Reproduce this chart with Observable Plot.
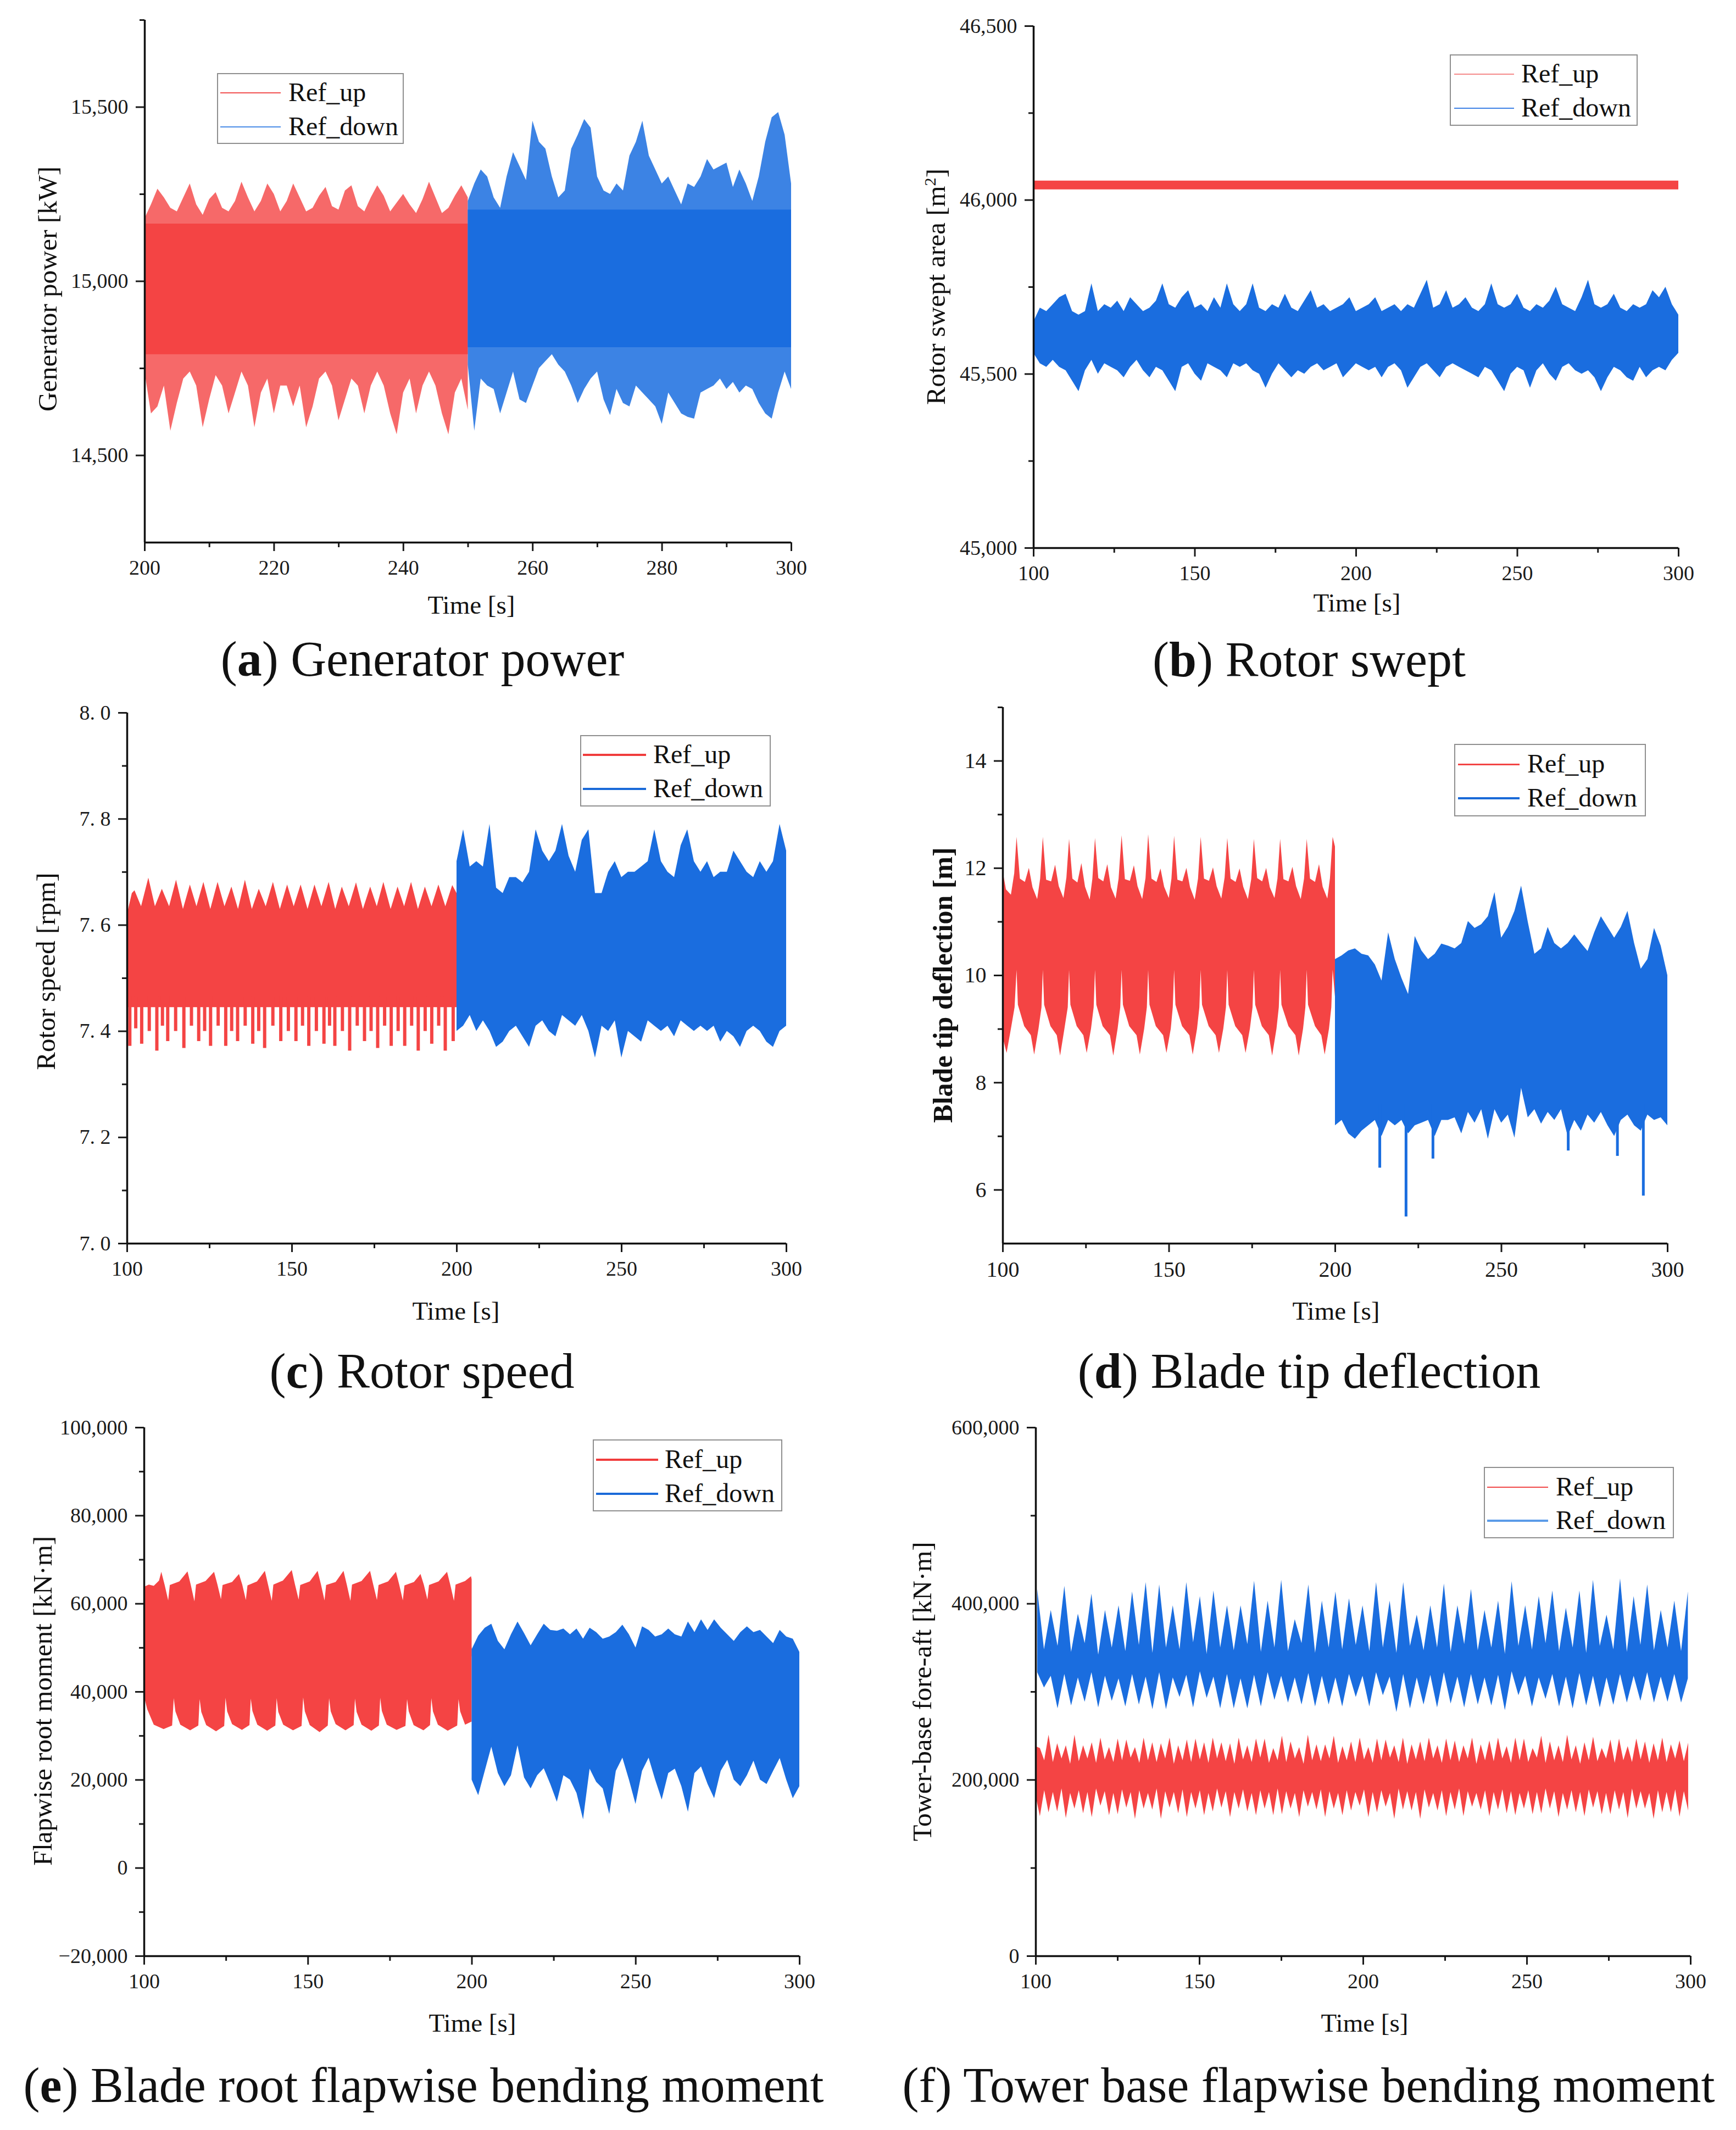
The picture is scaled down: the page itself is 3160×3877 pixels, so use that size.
<!DOCTYPE html>
<html><head><meta charset="utf-8">
<script src="https://cdn.jsdelivr.net/npm/d3@7"></script>
<script src="https://cdn.jsdelivr.net/npm/@observablehq/plot@0.6"></script>
<style>
html,body{margin:0;padding:0;background:#fff;overflow:hidden;}
#page{position:relative;width:3160px;height:3877px;background:#fff;overflow:hidden;font-family:"Liberation Serif","Times New Roman",serif;color:#111;}
.cap{position:absolute;transform:translate(-50%,-50%);white-space:nowrap;font-size:90px;line-height:1;}
.xt{position:absolute;transform:translate(-50%,-50%);white-space:nowrap;font-size:47px;line-height:1;}
.yt{position:absolute;transform:translate(-50%,-50%) rotate(-90deg);white-space:nowrap;font-size:49px;line-height:1;}
.leg{position:absolute;border:2px solid #8f8f8f;box-sizing:border-box;background:#fff;}
.legline{position:absolute;}
.legtxt{position:absolute;font-size:48px;line-height:1;transform:translateY(-52%);white-space:nowrap;}
</style></head>
<body><div id="page"></div>
<script>
const RED = "#f44444", BLUE = "#1a6ddf";

// ================= (a) Generator power [kW] =================
const aRedT = d3.range(200, 250.001, 1);
const aRedHi = [15180,15220,15265,15240,15210,15200,15240,15280,15220,15190,
  15235,15255,15210,15200,15230,15285,15240,15200,15230,15280,
  15250,15200,15230,15280,15240,15200,15210,15245,15270,15215,
  15205,15260,15275,15215,15200,15240,15275,15245,15200,15225,
  15250,15220,15195,15235,15285,15240,15195,15210,15245,15275,
  15240];
const aRedLo = [14740,14620,14640,14700,14570,14650,14720,14740,14700,14580,
  14660,14730,14700,14620,14680,14740,14700,14580,14680,14720,
  14620,14700,14700,14640,14700,14580,14640,14720,14740,14700,
  14600,14660,14720,14700,14620,14700,14740,14700,14620,14560,
  14680,14720,14620,14700,14740,14700,14620,14560,14680,14720,
  14630];
const aRedCoreT = [200, 250], aRedCoreLo = [14790, 14790], aRedCoreHi = [15165, 15165];
const aBlueT = d3.range(250, 300.001, 1);
const aBlueHi = [15230,15280,15320,15300,15240,15210,15300,15370,15330,15290,
  15460,15400,15380,15300,15240,15260,15380,15420,15465,15440,
  15300,15260,15250,15280,15260,15360,15400,15460,15360,15320,
  15280,15300,15260,15220,15280,15270,15300,15350,15320,15330,
  15340,15270,15320,15280,15230,15300,15400,15470,15485,15420,
  15280];
const aBlueLo = [14760,14570,14720,14700,14690,14620,14680,14740,14660,14650,
  14700,14750,14770,14790,14760,14740,14700,14650,14690,14720,
  14740,14660,14615,14690,14650,14640,14700,14680,14660,14640,
  14590,14680,14650,14620,14610,14605,14680,14690,14700,14720,
  14690,14710,14680,14700,14690,14650,14620,14605,14680,14740,
  14690];
const aBlueCoreT = [250, 300], aBlueCoreLo = [14810, 14810], aBlueCoreHi = [15205, 15205];

// ================= (b) Rotor swept area [m2] =================
const bRedT = [100, 300], bRedLo = [46030, 46030], bRedHi = [46055, 46055];
const bBlueT = d3.range(100, 300.001, 2);
const bBlueHi = [45650,45690,45680,45700,45720,45730,45680,45670,45680,45760,
  45680,45700,45690,45710,45680,45720,45700,45680,45690,45710,
  45760,45700,45690,45720,45740,45690,45700,45680,45720,45690,
  45760,45700,45680,45700,45760,45690,45680,45700,45690,45730,
  45690,45680,45710,45740,45690,45700,45680,45690,45700,45720,
  45680,45690,45700,45720,45680,45690,45700,45680,45700,45690,
  45730,45770,45690,45700,45740,45690,45700,45720,45690,45680,
  45700,45760,45700,45690,45700,45730,45690,45680,45700,45690,
  45710,45750,45700,45690,45680,45720,45770,45700,45690,45700,
  45730,45690,45680,45700,45690,45700,45740,45720,45750,45700,
  45670];
const bBlueLo = [45560,45530,45520,45540,45520,45510,45480,45450,45510,45540,
  45500,45530,45520,45510,45490,45520,45540,45510,45490,45520,
  45510,45480,45450,45520,45530,45500,45480,45530,45520,45510,
  45490,45530,45520,45530,45510,45500,45460,45500,45530,45510,
  45490,45510,45500,45520,45530,45510,45520,45530,45490,45510,
  45530,45520,45510,45520,45490,45520,45530,45510,45460,45490,
  45520,45530,45510,45490,45520,45530,45520,45510,45500,45490,
  45520,45510,45480,45450,45500,45520,45510,45460,45510,45530,
  45500,45480,45520,45530,45510,45500,45510,45490,45450,45490,
  45520,45510,45490,45480,45520,45490,45510,45520,45510,45540,
  45560];

// ================= (c) Rotor speed [rpm] =================
const cRedHiT = [100,101.5,102.3,104.3,106.5,108.5,110.6,112.8,114.9,117,119.1,121.1,123.2,125.3,127.5,129.6,
  131.7,133.7,135.8,137.9,140,142.1,144.3,146.4,148.6,150.6,152.7,154.8,156.9,159,161.2,163.2,
  165.2,167.3,169.5,171.6,173.8,175.8,177.8,180,182.1,184.1,186.2,188.3,190.4,192.4,194.5,196.6,198.7,200];
const cRedHiV = [7.62,7.66,7.665,7.635,7.689,7.635,7.668,7.635,7.685,7.63,7.676,7.635,7.681,7.63,7.681,7.635,
  7.672,7.63,7.685,7.63,7.668,7.635,7.681,7.63,7.676,7.635,7.676,7.63,7.676,7.635,7.681,7.63,
  7.672,7.635,7.68,7.63,7.672,7.635,7.681,7.63,7.672,7.635,7.681,7.63,7.672,7.635,7.676,7.635,7.675,7.66];
const cRedBase = 7.445;
const cRedSpikeT = [100.8,104.4,109,112.3,117.2,121.7,125.3,129.9,133.5,138.1,141.7,146.6,151.2,
  155.1,159.7,163,167.5,172,176,180.1,184.2,188.3,192.4,196.5,198.9];
const cRedSpikeV = [7.372,7.376,7.363,7.381,7.368,7.381,7.372,7.372,7.381,7.376,7.368,7.381,7.381,
  7.372,7.376,7.372,7.363,7.381,7.368,7.372,7.372,7.363,7.376,7.363,7.381];
const cRedDipT = [102.6,106.7,110.7,114.7,119.5,123.5,127.6,131.7,135.8,139.9,144.2,148.9,
  153.2,157.4,161.4,165.3,169.8,174,178.1,182.2,186.3,190.4,194.5];
const cRedDipV = [7.405,7.40,7.41,7.40,7.41,7.40,7.41,7.40,7.41,7.40,7.41,7.40,
  7.41,7.40,7.41,7.40,7.41,7.40,7.41,7.40,7.41,7.40,7.41];
const cBlueT = d3.range(200, 300.001, 2);
const cBlueHi = [7.72,7.78,7.71,7.72,7.71,7.79,7.67,7.66,7.69,7.69,
  7.68,7.70,7.78,7.74,7.72,7.74,7.79,7.73,7.70,7.76,
  7.78,7.66,7.66,7.70,7.72,7.69,7.70,7.70,7.71,7.72,
  7.78,7.72,7.70,7.69,7.75,7.78,7.72,7.70,7.72,7.69,
  7.70,7.70,7.74,7.72,7.70,7.69,7.72,7.70,7.72,7.79,
  7.74];
const cBlueLo = [7.40,7.41,7.43,7.40,7.42,7.40,7.37,7.38,7.40,7.41,
  7.39,7.37,7.41,7.42,7.40,7.39,7.43,7.42,7.41,7.43,
  7.40,7.35,7.41,7.40,7.42,7.35,7.40,7.39,7.38,7.42,
  7.41,7.40,7.41,7.39,7.42,7.41,7.40,7.41,7.40,7.41,
  7.38,7.40,7.39,7.37,7.40,7.41,7.40,7.38,7.37,7.40,
  7.41];

// ================= (d) Blade tip deflection [m] =================
const dRedHiT = [100,101,102.5,103.5,
  104.2,105.2,106.7,107.9,109.0,110.4,111.3, 112.1,113.1,114.6,115.8,116.9,118.3,119.2,
  120.0,121.0,122.5,123.7,124.8,126.2,127.0, 127.8,128.8,130.3,131.5,132.6,134.0,134.9,
  135.8,136.8,138.3,139.5,140.6,142.0,143.0, 143.8,144.8,146.3,147.5,148.6,150.0,150.8,
  151.6,152.6,154.1,155.3,156.4,157.8,158.8, 159.6,160.6,162.1,163.3,164.4,165.8,166.8,
  167.6,168.6,170.1,171.3,172.4,173.8,174.8, 175.6,176.6,178.1,179.3,180.4,181.8,182.7,
  183.5,184.5,186.0,187.2,188.3,189.7,190.7, 191.5,192.5,194.0,195.2,196.3,197.7,198.5,
  199.3,200];
const dRedHiV = [11.95,11.6,11.5,11.9,
  12.58,11.8,11.74,12.0,11.64,11.42,11.8, 12.58,11.78,11.75,12.06,11.66,11.44,11.82,
  12.54,11.8,11.73,12.09,11.65,11.41,11.79, 12.56,11.81,11.75,12.07,11.64,11.43,11.8,
  12.61,11.79,11.76,12.05,11.66,11.42,11.81, 12.63,11.8,11.74,11.99,11.65,11.44,11.8,
  12.6,11.78,11.75,12.0,11.64,11.41,11.8, 12.58,11.8,11.76,12.01,11.66,11.43,11.82,
  12.56,11.8,11.74,11.99,11.65,11.42,11.79, 12.54,11.81,11.75,12.0,11.64,11.44,11.8,
  12.54,11.79,11.75,12.02,11.66,11.42,11.8, 12.54,11.8,11.74,12.07,11.65,11.43,11.81,
  12.58,12.4];
const dRedLoT = [100,
  101.2,102.5,103.6,104.2,104.6,106.5,108.5, 109.5,110.8,111.7,112.1,112.5,114.4,116.3,
  117.3,118.6,119.6,120.0,120.4,122.3,124.3, 125.3,126.6,127.4,127.8,128.2,130.1,132.3,
  133.3,134.6,135.4,135.8,136.2,138.1,140.3, 141.3,142.6,143.4,143.8,144.2,146.1,148.3,
  149.3,150.6,151.2,151.6,152.0,154.0,156.2, 157.2,158.5,159.2,159.6,160.0,162.0,164.1,
  165.1,166.4,167.2,167.6,168.0,170.0,172.1, 173.1,174.4,175.2,175.6,176.0,178.0,180.1,
  181.1,182.4,183.1,183.5,183.9,186.0,188.1, 189.1,190.4,191.1,191.5,191.9,194.0,195.9,
  196.9,198.2,198.9,199.3,200];
const dRedLoV = [8.85,
  8.55,9.0,9.4,10.1,9.45,9.05,8.88, 8.52,9.0,9.4,10.1,9.45,9.05,8.88,
  8.5,9.0,9.4,10.1,9.45,9.05,8.88, 8.55,9.0,9.4,10.1,9.45,9.05,8.88,
  8.5,9.0,9.4,10.1,9.45,9.05,8.88, 8.52,9.0,9.4,10.1,9.45,9.05,8.88,
  8.55,9.0,9.4,10.1,9.45,9.05,8.88, 8.52,9.0,9.4,10.1,9.45,9.05,8.88,
  8.55,9.0,9.4,10.1,9.45,9.05,8.88, 8.55,9.0,9.4,10.1,9.45,9.05,8.88,
  8.5,9.0,9.4,10.1,9.45,9.05,8.88, 8.5,9.0,9.4,10.1,9.45,9.05,8.88,
  8.52,9.0,9.4,10.1,9.6];
const dRedUpperBase = 10.6, dRedLowerTop = 10.8;
const dBlueT = d3.range(200, 300.001, 2);
const dBlueHi = [10.30,10.37,10.46,10.50,10.40,10.37,10.20,9.90,10.80,10.30,
  9.95,9.65,10.73,10.46,10.30,10.40,10.59,10.55,10.50,10.60,
  11.01,10.88,10.95,11.10,11.55,10.70,10.90,11.20,11.67,11.00,
  10.40,10.50,10.90,10.60,10.50,10.60,10.76,10.60,10.45,10.80,
  11.10,10.90,10.70,10.90,11.20,10.60,10.12,10.30,10.88,10.55,
  10.00];
const dBlueLo = [7.20,7.30,7.05,6.95,7.10,7.20,7.30,7.00,7.30,7.20,
  7.30,7.05,7.20,7.25,7.30,7.00,7.30,7.30,7.35,7.05,
  7.45,7.25,7.50,6.95,7.50,7.25,7.40,6.97,7.90,7.35,
  7.50,7.23,7.45,7.30,7.50,7.00,7.30,7.10,7.40,7.25,
  7.45,7.20,7.00,7.30,7.40,7.20,7.10,7.40,7.30,7.35,
  7.20];
const dBlueSpikeT = [213.4, 221.3, 229.4, 270.1, 284.9, 292.7];
const dBlueSpikeV = [6.41, 5.50, 6.58, 6.73, 6.63, 5.89];

// ================= (e) Flapwise root moment [kN·m], values in thousands =================
const eRedHiT = [100,101.5,103,104.6,
  105.3,106.3,107.4,107.9,110.8, 113.3,114.3,115.4,115.9,118.8, 121.4,122.4,123.5,124.0,126.9,
  129.0,130.0,131.1,131.6,134.5, 136.9,137.9,139.0,139.5,142.4, 145.1,146.1,147.2,147.7,150.6,
  153.0,154.0,155.1,155.6,158.5, 160.9,161.9,163.0,163.5,166.4, 169.0,170.0,171.1,171.6,174.5,
  176.9,177.9,179.0,179.5,182.4, 184.4,185.4,186.5,187.0,189.9, 192.5,193.5,194.6,195.1,198.0,
  199.8,200];
const eRedHiV = [63.8,64.3,64.0,65.2,
  67.2,64.3,60.7,64.2,65.0, 67.3,64.2,60.5,64.3,65.1, 67.2,64.4,61.0,64.2,64.9,
  66.7,64.3,60.8,64.1,65.0, 67.4,64.2,60.6,64.3,65.2, 67.6,64.3,60.9,64.2,65.0,
  67.4,64.4,60.7,64.2,64.9, 67.4,64.3,60.6,64.3,65.1, 67.4,64.2,60.8,64.2,65.0,
  67.2,64.3,60.7,64.1,64.9, 66.7,64.3,60.9,64.2,65.0, 67.2,64.2,60.6,64.3,65.1,
  66.2,65.5];
const eRedLoT = [100,101,103,106,108.6,
  109.1,109.6,111.1,114.1,116.6, 117.0,117.5,119.0,122.0,124.5, 124.9,125.4,126.9,129.9,132.2,
  132.6,133.1,134.6,137.6,140.1, 140.5,141.0,142.5,145.5,148.1, 148.6,149.1,150.6,153.6,156.1,
  156.5,157.0,158.5,161.5,164.0, 164.4,164.9,166.4,169.4,171.7, 172.1,172.6,174.1,177.1,179.8,
  180.3,180.8,182.3,185.3,187.3, 187.7,188.2,189.7,192.7,195.6,
  196.0,196.5,198.0,200];
const eRedLoV = [39.0,36.0,32.5,31.5,32.3,
  38.5,35.5,32.5,31.2,32.3, 38.3,35.4,32.4,31.0,32.2, 38.6,35.5,32.6,31.3,32.4,
  38.4,35.6,32.5,31.1,32.3, 38.5,35.4,32.5,31.2,32.2, 38.7,35.5,32.4,30.8,32.3,
  38.5,35.5,32.6,31.2,32.4, 38.4,35.4,32.5,31.1,32.3, 38.6,35.6,32.5,31.3,32.2,
  38.3,35.5,32.4,31.2,32.4, 38.5,35.5,32.5,31.1,32.3,
  38.3,35.5,32.5,33.2];
const eRedUpperBase = 48, eRedLowerTop = 50;
const eBlueT = d3.range(200, 300.001, 2);
const eBlueHi = [49.6,52.7,54.5,55.4,51.5,49.6,53.0,55.9,53.3,50.5,
  53.0,55.4,54.0,53.8,54.3,53.0,54.3,52.0,54.5,53.5,
  52.0,52.5,53.5,55.2,53.0,50.0,54.8,54.0,52.5,53.0,
  54.3,53.0,52.5,55.9,53.5,56.4,54.0,56.4,54.5,53.0,
  51.5,53.5,54.8,53.5,54.0,52.5,51.0,54.0,52.5,52.0,
  49.0];
const eBlueLo = [20.0,16.5,22.0,27.5,21.5,18.5,21.0,27.8,20.5,18.0,
  21.0,22.6,19.0,15.0,21.0,20.0,17.0,11.0,22.5,19.5,
  18.0,12.2,22.0,25.0,20.0,14.5,22.0,25.0,20.0,15.5,
  21.5,22.5,18.5,12.7,21.5,23.0,19.0,15.8,22.0,24.5,
  20.0,18.5,21.0,24.3,20.0,19.0,22.0,24.9,20.0,15.8,
  18.5];

// ================= (f) Tower-base fore-aft [kN·m], values in thousands =================
const fRedT = d3.range(100, 300, 1.32);
const fRedHi = [238,235.9,222,251.0,220,241.3,224,239.1,218,251.0,
  221,239.1,224,242.4,219,247.7,223,237.0,220,246.7,
  222,245.6,225,237.0,219,247.7,222,242.4,220,241.3,
  224,247.7,218,239.1,222,245.6,220,246.7,223,242.4,
  219,247.7,224,242.4,221,241.3,218,247.7,223,239.1,
  220,246.7,225,246.7,219,235.9,222,249.9,220,243.4,
  224,237.0,218,251.0,222,240.2,221,240.2,224,249.9,
  219,238.1,222,243.4,220,247.7,223,237.0,219,246.7,
  222,245.6,225,239.1,220,247.7,218,240.2,223,243.4,
  221,247.7,224,239.1,219,246.7,222,244.5,220,239.1,
  224,247.7,218,240.2,222,244.5,221,247.7,224,238.1,
  219,247.7,222,246.7,220,235.9,225,249.9,219,243.4,
  222,239.1,220,251.0,223,239.1,218,242.4,222,248.8,
  221,235.9,224,245.6,219,246.7,222,238.1,220,246.7,
  223,243.4,219,241.3,222,247.7,220,240.2,224,244.5,
  221,242];
const fRedLo = [182,158.6,188,162.9,186,163.9,190,156.4,185,167.2,
  188,161.8,186,157.5,190,170.4,187,159.7,185,160.7,
  189,168.3,186,155.4,188,167.2,185,166.1,190,155.4,
  187,168.3,186,161.8,189,157.5,186,167.2,188,159.7,
  185,163.9,190,168.3,187,157.5,186,167.2,189,163.9,
  185,159.7,188,167.2,186,159.7,190,160.7,187,167.2,
  185,157.5,188,169.3,186,166.1,189,157.5,187,167.2,
  185,159.7,188,165.0,186,170.4,189,157.5,186,162.9,
  188,169.3,185,155.4,190,166.1,187,165.0,186,155.4,
  189,168.3,185,165.0,188,158.6,186,166.1,190,158.6,
  187,169.3,185,166.1,188,158.6,186,166.1,189,161.8,
  187,159.7,185,167.2,188,160.7,186,161.8,190,167.2,
  187,157.5,185,166.1,188,162.9,186,158.6,189,168.3,
  187,160.7,185,160.7,188,166.1,186,156.4,190,167.2,
  187,167.2,185,155.4,188,162.9,186,162.9,189,158.0,
  187,165.0];
const fBlueT = d3.range(100.5, 299.3, 2.07);
const fBlueHi = [416.4,348,392.6,352,420.0,345,388.4,355,411.1,342,
  392.6,350,397.9,346,413.7,353,424.3,344,421.6,350,
  397.9,348,424.3,356,408.4,343,414.8,350,397.9,347,
  397.9,354,425.9,345,403.2,350,426.9,346,382.1,355,
  421.6,344,403.2,350,413.7,348,405.8,353,397.9,346,
  424.3,350,403.2,344,424.3,352,387.3,347,397.9,350,
  422.7,345,397.9,354,416.4,347,392.6,350,403.2,343,
  425.3,352,397.9,348,408.4,355,414.8,346,395.2,350,
  414.8,344,426.9,352,387.3,348,428.5,345,408.4,353,
  421.6,347,392.6,350,403.2,346,413.7];
const fBlueLo = [322,304.7,318,281.0,320,284.3,316,288.5,322,282.1,
  318,289.6,315,283.2,320,285.3,317,280.0,322,280.0,
  316,293.9,319,282.1,323,292.8,317,281.0,320,281.0,
  315,281.0,319,283.2,322,290.7,318,287.5,316,285.3,
  321,283.2,318,285.3,316,283.2,320,293.9,318,283.2,
  322,296.0,317,276.7,320,281.0,316,285.3,319,282.1,
  322,286.4,317,282.1,320,285.3,316,284.3,319,278.9,
  323,296.0,318,283.2,316,291.8,320,283.2,317,281.0,
  321,284.3,318,282.1,316,285.0,320,287.5,318,289.6,
  322,287.5,317,288.5,320,287.5,315];

// ---------------- helpers ----------------
function band(T, lo, hi, k = 1) { return T.map((t, i) => ({t, lo: lo[i] * k, hi: hi[i] * k})); }
function pts(T, V, k = 1) { return T.map((t, i) => ({t, v: V[i] * k})); }
const fmtComma = d => (d < 0 ? "\u2212" : "") + d3.format(",")(Math.abs(d));
const page = document.getElementById("page");

function addPlot(cfg) {
  const [left, top, width, height] = cfg.box;
  const [L, R, T, B] = cfg.frame;
  const fs = cfg.fontSize || 38;
  const svg = Plot.plot({
    width, height,
    marginLeft: L - left, marginRight: left + width - R,
    marginTop: T - top, marginBottom: top + height - B,
    x: {domain: cfg.x},
    y: {domain: cfg.y},
    style: {fontFamily: '"Liberation Serif", "Times New Roman", serif', fontSize: fs + "px",
            color: "#1a1a1a", background: "transparent", overflow: "visible"},
    marks: [
      ...cfg.marks,
      Plot.axisX(cfg.xTicks, {tickSize: 16, tickPadding: 16, strokeWidth: 3, label: null, fontSize: fs, tickFormat: d => String(d)}),
      Plot.axisX(cfg.xMinor, {tickSize: 9, strokeWidth: 3, label: null, tickFormat: () => ""}),
      Plot.axisY(cfg.yTicks, {tickSize: 16, tickPadding: 14, strokeWidth: 3, label: null, fontSize: fs, tickFormat: cfg.yFmt || fmtComma}),
      Plot.axisY(cfg.yMinor, {tickSize: 9, strokeWidth: 3, label: null, tickFormat: () => ""}),
      Plot.ruleX([cfg.x[0]], {stroke: "#111", strokeWidth: 3.5}),
      Plot.ruleY([cfg.y[0]], {stroke: "#111", strokeWidth: 3.5})
    ]
  });
  svg.style.position = "absolute";
  svg.style.left = left + "px";
  svg.style.top = top + "px";
  page.appendChild(svg);
}

function addHTML(cls, html, x, y, extra = "") {
  const d = document.createElement("div");
  d.className = cls;
  d.innerHTML = html;
  d.style.cssText += `left:${x}px;top:${y}px;${extra}`;
  page.appendChild(d);
}

function addLegend(s) {
  const [x0, y0, x1, y1] = s.box;
  const box = document.createElement("div");
  box.className = "leg";
  box.style.cssText += `left:${x0}px;top:${y0}px;width:${x1 - x0}px;height:${y1 - y0}px;`;
  page.appendChild(box);
  ["Ref_up", "Ref_down"].forEach((name, i) => {
    const ln = document.createElement("div");
    ln.className = "legline";
    ln.style.cssText += `left:${s.line[0]}px;top:${s.rows[i] - s.lw[i] / 2}px;width:${s.line[1] - s.line[0]}px;height:${s.lw[i]}px;background:${s.colors[i]};`;
    page.appendChild(ln);
    addHTML("legtxt", name, s.textX, s.rows[i]);
  });
}

const x200 = [200, 220, 240, 260, 280, 300], x200m = [210, 230, 250, 270, 290];
const x100 = [100, 150, 200, 250, 300], x100m = [125, 175, 225, 275];

// (a)
addPlot({
  box: [0, 0, 1560, 1120], frame: [263, 1440, 36, 987],
  x: [200, 300], y: [14250, 15750],
  xTicks: x200, xMinor: x200m,
  yTicks: [14500, 15000, 15500], yMinor: [14750, 15250, 15750],
  marks: [
    Plot.areaY(band(aRedT, aRedLo, aRedHi), {x: "t", y1: "lo", y2: "hi", fill: RED, fillOpacity: 0.8}),
    Plot.areaY(band(aRedCoreT, aRedCoreLo, aRedCoreHi), {x: "t", y1: "lo", y2: "hi", fill: RED}),
    Plot.areaY(band(aBlueT, aBlueLo, aBlueHi), {x: "t", y1: "lo", y2: "hi", fill: BLUE, fillOpacity: 0.85}),
    Plot.areaY(band(aBlueCoreT, aBlueCoreLo, aBlueCoreHi), {x: "t", y1: "lo", y2: "hi", fill: BLUE})
  ]
});
// (b)
addPlot({
  box: [1580, 0, 1580, 1120], frame: [1881, 3055, 47, 997],
  x: [100, 300], y: [45000, 46500],
  xTicks: x100, xMinor: x100m,
  yTicks: [45000, 45500, 46000, 46500], yMinor: [45250, 45750, 46250],
  marks: [
    Plot.areaY(band(bRedT, bRedLo, bRedHi), {x: "t", y1: "lo", y2: "hi", fill: RED}),
    Plot.areaY(band(bBlueT, bBlueLo, bBlueHi), {x: "t", y1: "lo", y2: "hi", fill: BLUE})
  ]
});
// (c)
addPlot({
  box: [0, 1260, 1560, 1140], frame: [231, 1431, 1297, 2263],
  x: [100, 300], y: [7.0, 8.0],
  xTicks: x100, xMinor: x100m,
  yTicks: [7.0, 7.2, 7.4, 7.6, 7.8, 8.0], yMinor: [7.1, 7.3, 7.5, 7.7, 7.9],
  yFmt: d => d.toFixed(1).replace(".", ". "),
  marks: [
    Plot.areaY(pts(cRedHiT, cRedHiV), {x: "t", y1: cRedBase, y2: "v", fill: RED}),
    Plot.ruleX(pts(cRedSpikeT, cRedSpikeV), {x: "t", y1: cRedBase + 0.02, y2: "v", stroke: RED, strokeWidth: 6}),
    Plot.ruleX(pts(cRedDipT, cRedDipV), {x: "t", y1: cRedBase + 0.02, y2: "v", stroke: RED, strokeWidth: 6}),
    Plot.areaY(band(cBlueT, cBlueLo, cBlueHi), {x: "t", y1: "lo", y2: "hi", fill: BLUE})
  ]
});
// (d)
addPlot({
  box: [1580, 1260, 1580, 1140], frame: [1825, 3035, 1287, 2263],
  x: [100, 300], y: [5, 15], fontSize: 40,
  xTicks: x100, xMinor: x100m,
  yTicks: [6, 8, 10, 12, 14], yMinor: [7, 9, 11, 13, 15],
  marks: [
    Plot.areaY(pts(dRedHiT, dRedHiV), {x: "t", y1: dRedUpperBase, y2: "v", fill: RED}),
    Plot.areaY(pts(dRedLoT, dRedLoV), {x: "t", y1: "v", y2: dRedLowerTop, fill: RED}),
    Plot.areaY(band(dBlueT, dBlueLo, dBlueHi), {x: "t", y1: "lo", y2: "hi", fill: BLUE}),
    Plot.ruleX(pts(dBlueSpikeT, dBlueSpikeV), {x: "t", y1: 7.6, y2: "v", stroke: BLUE, strokeWidth: 5})
  ]
});
// (e)
addPlot({
  box: [0, 2560, 1560, 1120], frame: [262, 1455, 2598, 3560],
  x: [100, 300], y: [-20000, 100000],
  xTicks: x100, xMinor: x100m,
  yTicks: [-20000, 0, 20000, 40000, 60000, 80000, 100000],
  yMinor: [-10000, 10000, 30000, 50000, 70000, 90000],
  marks: [
    Plot.areaY(pts(eRedHiT, eRedHiV, 1000), {x: "t", y1: eRedUpperBase * 1000, y2: "v", fill: RED}),
    Plot.areaY(pts(eRedLoT, eRedLoV, 1000), {x: "t", y1: "v", y2: eRedLowerTop * 1000, fill: RED}),
    Plot.areaY(band(eBlueT, eBlueLo, eBlueHi, 1000), {x: "t", y1: "lo", y2: "hi", fill: BLUE})
  ]
});
// (f)
addPlot({
  box: [1580, 2560, 1580, 1120], frame: [1885, 3077, 2598, 3560],
  x: [100, 300], y: [0, 600000],
  xTicks: x100, xMinor: x100m,
  yTicks: [0, 200000, 400000, 600000], yMinor: [100000, 300000, 500000],
  marks: [
    Plot.areaY(band(fRedT, fRedLo, fRedHi, 1000), {x: "t", y1: "lo", y2: "hi", fill: RED}),
    Plot.areaY(band(fBlueT, fBlueLo, fBlueHi, 1000), {x: "t", y1: "lo", y2: "hi", fill: BLUE})
  ]
});

// axis titles
addHTML("yt", "Generator power [kW]", 86, 526);
addHTML("xt", "Time [s]", 858, 1101);
addHTML("yt", "Rotor swept area [m<sup style='font-size:0.62em;vertical-align:0.55em;line-height:0'>2</sup>]", 1703, 522);
addHTML("xt", "Time [s]", 2470, 1097);
addHTML("yt", "Rotor speed [rpm]", 83, 1768);
addHTML("xt", "Time [s]", 830, 2386);
addHTML("yt", "Blade tip deflection [m]", 1716, 1793, "font-size:50px;font-weight:bold;");
addHTML("xt", "Time [s]", 2432, 2386);
addHTML("yt", "Flapwise root moment [kN\u00b7m]", 77, 3096);
addHTML("xt", "Time [s]", 860, 3682);
addHTML("yt", "Tower-base fore-aft [kN\u00b7m]", 1678, 3079);
addHTML("xt", "Time [s]", 2484, 3682);

// legends
addLegend({box: [395, 133, 735, 262], line: [401, 511], textX: 525, rows: [169, 231], lw: [2, 2.5], colors: ["#f25050", "#4a8ce6"]});
addLegend({box: [2639, 99, 2981, 229], line: [2647, 2756], textX: 2769, rows: [135, 197], lw: [2.5, 2.5], colors: ["#f58a8a", "#3f82e6"]});
addLegend({box: [1056, 1338, 1403, 1468], line: [1061, 1176], textX: 1189, rows: [1374, 1436], lw: [4, 4], colors: ["#f03c3c", "#1a6ad8"]});
addLegend({box: [2647, 1354, 2996, 1486], line: [2654, 2766], textX: 2780, rows: [1391, 1453], lw: [3, 4], colors: ["#f24444", "#1a6ad8"]});
addLegend({box: [1079, 2620, 1424, 2751], line: [1085, 1198], textX: 1210, rows: [2657, 2719], lw: [4, 4], colors: ["#f03c3c", "#1a6ad8"]});
addLegend({box: [2701, 2670, 3047, 2800], line: [2707, 2818], textX: 2832, rows: [2707, 2768], lw: [2, 4], colors: ["#f04848", "#5b9be8"]});

// captions
addHTML("cap", "(<b>a</b>) Generator power", 769, 1200);
addHTML("cap", "(<b>b</b>) Rotor swept", 2383, 1201);
addHTML("cap", "(<b>c</b>) Rotor speed", 768, 2496);
addHTML("cap", "(<b>d</b>) Blade tip deflection", 2383, 2496);
addHTML("cap", "(<b>e</b>) Blade root flapwise bending moment", 771, 3796);
addHTML("cap", "(f) Tower base flapwise bending moment", 2382, 3796);
</script>
</body></html>
